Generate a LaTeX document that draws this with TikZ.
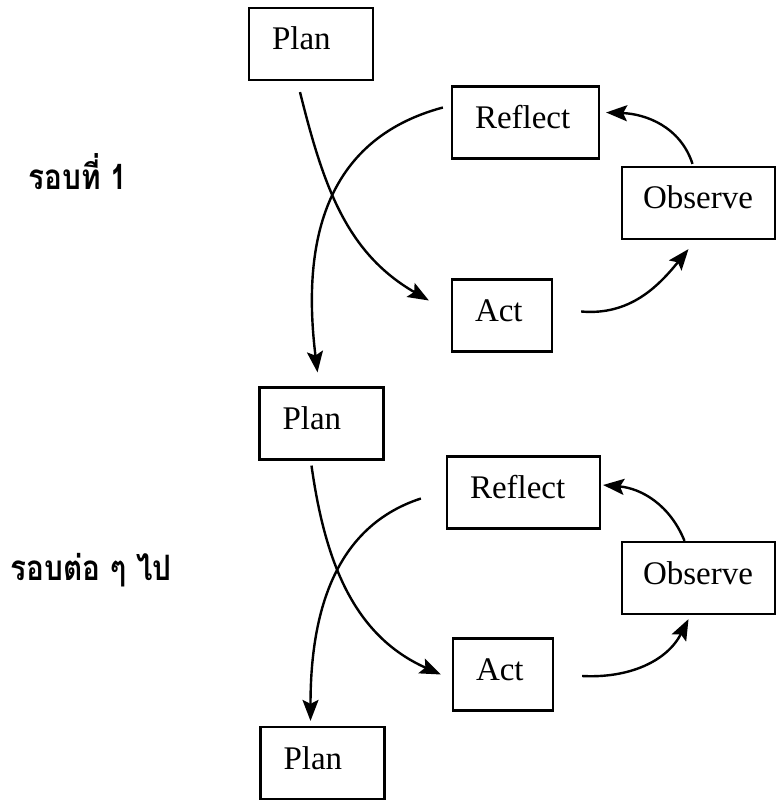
\documentclass[tikz,border=0pt]{standalone}
\usepackage{fontspec}
\setmainfont{Liberation Serif}
\newfontfamily\thaifont[Script=Thai, FakeStretch=0.85]{Loma}
\usetikzlibrary{arrows.meta}

\begin{document}
\begin{tikzpicture}[
                x=0.5pt, y=-0.5pt,
                stage/.style={draw, line width=1.1pt, inner xsep=11.5pt, inner ysep=0pt,
                    text height=21pt, text depth=15pt, align=left,
                    font=\fontsize{16.5}{18}\selectfont},
                roundlabel/.style={anchor=base west, inner sep=0pt,
                    font=\thaifont\bfseries\fontsize{17.5}{20}\selectfont},
                flow/.style={-{Stealth[length=10.5pt,width=8pt,inset=2pt]}, line width=1.2pt}
            ]
            \tikzstyle{plan}=[stage, text width=39pt]
            \tikzstyle{act}=[stage, text width=27pt]
            \tikzstyle{reflect}=[stage, text width=50.5pt]
            \tikzstyle{observe}=[stage, inner xsep=10.5pt, text width=55.5pt]

            \useasboundingbox (0,0) rectangle (777,802);

            % round 1
            \node[plan] (plan1) at (311,44) {Plan};
            \node[reflect] (reflect1) at (525.5,122.5) {Reflect};
            \node[observe] (observe1) at (698.5,203) {Observe};
            \node[act] (act1) at (502,315.5) {Act};

            % next rounds
            \node[plan] (plan2) at (321.5,423.5) {Plan};
            \node[stage, text width=53.5pt] (reflect2) at (523.5,492.5) {Reflect};
            \node[observe] (observe2) at (698.5,578) {Observe};
            \node[act] (act2) at (503,674.5) {Act};
            \node[plan] (plan3) at (322.5,763) {Plan};

            \node[roundlabel] (round1) at (28,190) {รอบที่ 1};
            \node[roundlabel] (round2) at (10,580) {รอบต่อ ๆ ไป};

            % arrows of round 1
            \draw[flow] ([xshift=-5.5pt,yshift=-5.5pt]plan1.south)
                to[out=-76, in=150] ([xshift=-11pt,yshift=7.5pt]act1.west);
            \draw[flow] ([xshift=-4pt,yshift=7.5pt]reflect1.west)
                to[out=195, in=97, looseness=1.1] ([xshift=-2pt,yshift=7pt]plan2.north);
            \draw[flow] ([xshift=14pt,yshift=2pt]act1.east)
                to[out=-5, in=231] ([xshift=-5pt,yshift=-4.5pt]observe1.south);
            \draw[flow] ([xshift=-3pt,yshift=1pt]observe1.north)
                to[out=108, in=-2] ([xshift=3pt,yshift=5pt]reflect1.east);

            % arrows of the next rounds
            \draw[flow] ([xshift=-5pt,yshift=-2.5pt]plan2.south)
                to[out=-82, in=156] ([xshift=-5.5pt]act2.west);
            \draw[flow] ([xshift=-12.5pt,yshift=-3pt]reflect2.west)
                to[out=198, in=90] ([xshift=-6pt,yshift=2.5pt]plan3.north);
            \draw[flow] ([xshift=14pt,yshift=-0.75pt]act2.east)
                to[out=-3, in=243] ([xshift=-5pt,yshift=-2pt]observe2.south);
            \draw[flow] ([xshift=-7pt]observe2.north)
                to[out=112, in=-5] ([xshift=1pt,yshift=3.75pt]reflect2.east);
        \end{tikzpicture}
\end{document}
